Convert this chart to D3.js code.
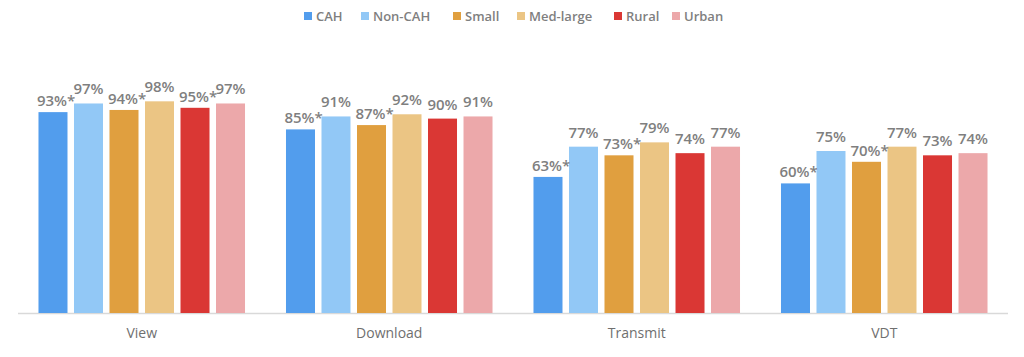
<!DOCTYPE html>
<html><head><meta charset="utf-8">
<script src="https://cdn.jsdelivr.net/npm/d3@7"></script>
<style>body{margin:0;background:#fff}svg{display:block}</style>
</head><body><svg id="c" width="1024" height="357"></svg>
<script>
const categories = ["View","Download","Transmit","VDT"];
const series = ["CAH","Non-CAH","Small","Med-large","Rural","Urban"];
const colors = ["#529ded","#92c8f6","#e09f3f","#ebc584","#da3734","#eca8aa"];
const values = {
  "CAH":       [93,85,63,60],
  "Non-CAH":   [97,91,77,75],
  "Small":     [94,87,73,70],
  "Med-large": [98,92,79,77],
  "Rural":     [95,90,74,73],
  "Urban":     [97,91,77,74]
};
const significant = {
  "CAH":       [true,true,true,true],
  "Non-CAH":   [false,false,false,false],
  "Small":     [true,true,true,true],
  "Med-large": [false,false,false,false],
  "Rural":     [true,false,false,false],
  "Urban":     [false,false,false,false]
};

const svg = d3.select("#c");
const x0 = d3.scaleBand().domain(categories).range([18,1008]).padding(0);
const x1 = d3.scaleBand().domain(series).range([0,x0.bandwidth()]).paddingInner(0.183).paddingOuter(0.577);
const y = d3.scaleLinear().domain([0,100]).range([313,97]);
const color = d3.scaleOrdinal().domain(series).range(colors);

svg.append("line").attr("x1",18).attr("x2",1008).attr("y1",313.5).attr("y2",313.5)
  .attr("stroke","#d9d9d9").attr("stroke-width",1.5);

const data = [];
categories.forEach((c,i)=>series.forEach(s=>data.push({c,s,v:values[s][i],sig:significant[s][i]})));

svg.selectAll("rect.bar").data(data).join("rect").attr("class","bar")
  .attr("x",d=>x0(d.c)+x1(d.s)).attr("width",x1.bandwidth())
  .attr("y",d=>y(d.v)).attr("height",d=>y(0)-y(d.v))
  .attr("fill",d=>color(d.s));

const lab = svg.selectAll("g.lab").data(data).join("g").attr("class","lab")
  .attr("transform",d=>`translate(${x0(d.c)+x1(d.s)+x1.bandwidth()/2 - (d.sig?1:0)},${y(d.v)-(d.sig?6:9)})`);
lab.append("text").attr("text-anchor","middle")
  .attr("font-family","Open Sans, sans-serif").attr("font-weight",600).attr("font-size",15)
  .attr("fill","#7f7f7f").text(d=>d.v+"%");
lab.filter(d=>d.sig).append("text")
  .attr("x",function(d){return this.parentNode.querySelector("text").getComputedTextLength()/2;})
  .attr("font-family","Open Sans, sans-serif").attr("font-weight",600).attr("font-size",15)
  .attr("fill","#7f7f7f").text("*");

// category axis labels
svg.selectAll("text.cat").data(categories).join("text").attr("class","cat")
  .attr("x",d=>x0(d)+x0.bandwidth()/2).attr("y",338).attr("text-anchor","middle")
  .attr("font-family","Open Sans, sans-serif").attr("font-size",14)
  .attr("fill","#6f6f6f").text(d=>d);

// legend
const legX = [304,361,453,517,614,672];
const leg = svg.selectAll("g.leg").data(series).join("g").attr("class","leg")
  .attr("transform",(d,i)=>`translate(${legX[i]},0)`);
leg.append("rect").attr("x",0).attr("y",12).attr("width",8).attr("height",8).attr("fill",d=>color(d));
leg.append("text").attr("x",12).attr("y",20.5)
  .attr("font-family","Open Sans, sans-serif").attr("font-weight",600).attr("font-size",13)
  .attr("fill","#7f7f7f").text(d=>d);
</script></body></html>
